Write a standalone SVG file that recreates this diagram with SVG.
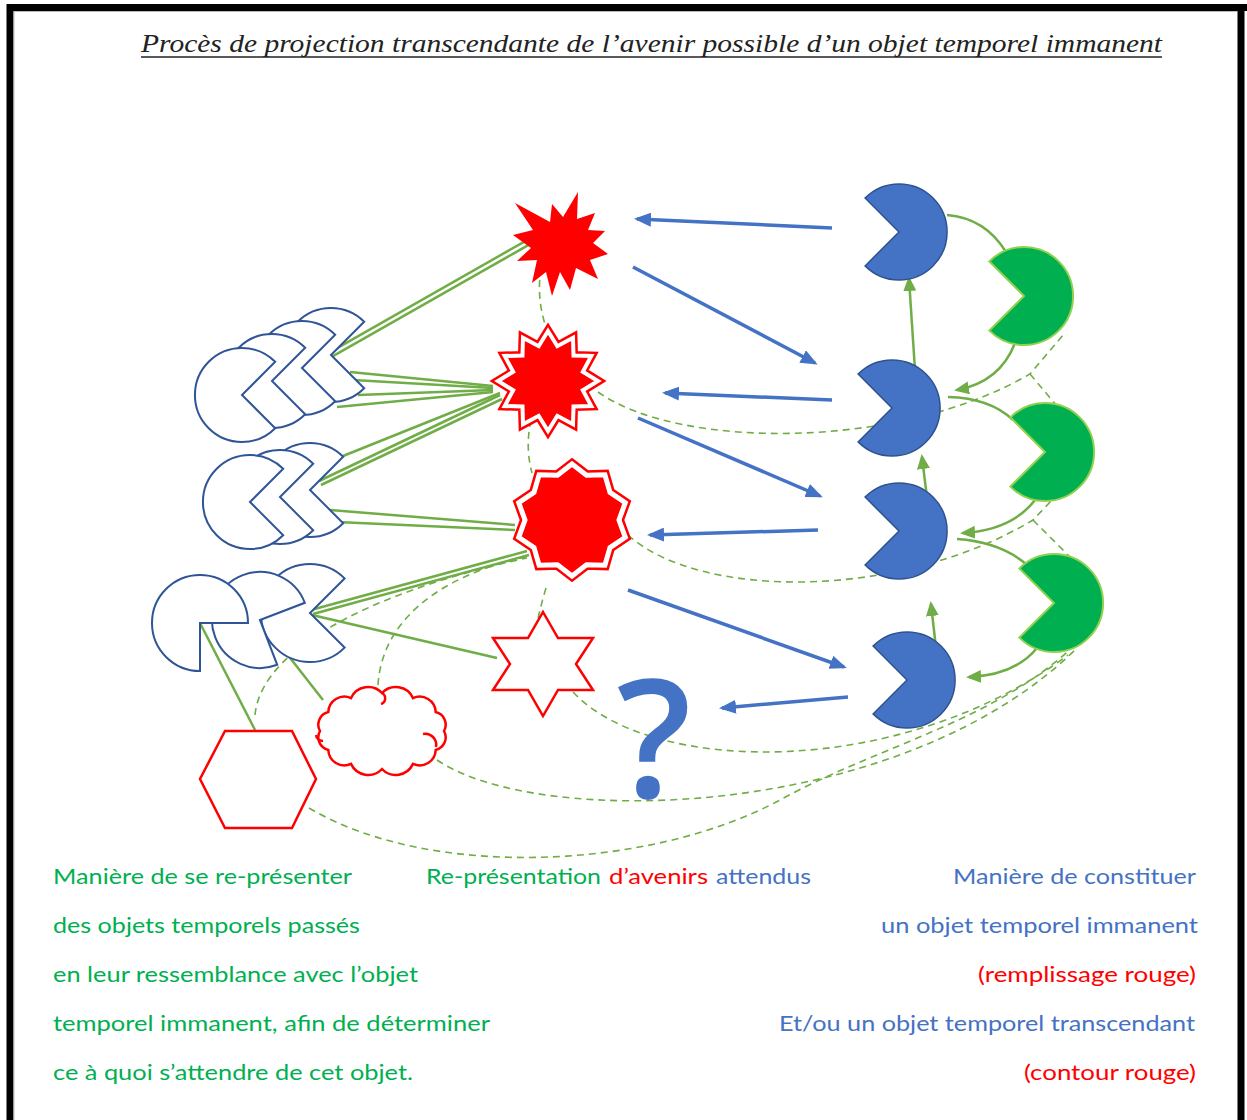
<svg xmlns="http://www.w3.org/2000/svg" width="1247" height="1120" viewBox="0 0 1247 1120">
<style>
.po{fill:#fff;stroke:#2F5597;stroke-width:2}
.pb{fill:#4472C4;stroke:#2F528F;stroke-width:1.5}
.pg{fill:#00B050;stroke:#92D050;stroke-width:2}
.gl{stroke:#70AD47;stroke-width:2.5;fill:none}
.gd{stroke:#70AD47;stroke-width:1.6;fill:none;stroke-dasharray:7 5}
.ba{stroke:#4472C4;stroke-width:3.5;fill:none;marker-end:url(#ab)}
.ga{stroke:#70AD47;stroke-width:2.5;fill:none}
.ro{fill:#fff;stroke:#FF0000;stroke-width:2.5}
.txt{font-family:Lato,"Liberation Sans",sans-serif;font-size:22px}
.g{fill:#00B050}.b{fill:#4472C4}.r{fill:#FF0000}
</style>
<defs>
<marker id="ab" markerUnits="userSpaceOnUse" markerWidth="17" markerHeight="14" viewBox="0 0 17 14" refX="14" refY="7" orient="auto"><path d="M0,0 L17,7 L0,14 Z" fill="#4472C4"/></marker>
<marker id="ag" markerUnits="userSpaceOnUse" markerWidth="15" markerHeight="13" viewBox="0 0 15 13" refX="12" refY="6.5" orient="auto"><path d="M0,0 L15,6.5 L0,13 Z" fill="#70AD47"/></marker>
<polygon id="s2" points="548,331 557.3,346.2 573,337.7 573.5,355.5 591.3,356 582.8,371.7 598,381 582.8,390.3 591.3,406 573.5,406.5 573,424.3 557.3,415.8 548,431 538.7,415.8 523,424.3 522.5,406.5 504.7,406 513.2,390.3 498,381 513.2,371.7 504.7,356 522.5,355.5 523,337.7 538.7,346.2"/>
<polygon id="s3" points="572,464 586.5,475.3 604.9,474.7 610,492.4 625.3,502.7 619,520 625.3,537.3 610,547.6 604.9,565.3 586.5,564.7 572,576 557.5,564.7 539.1,565.3 534,547.6 518.7,537.3 525,520 518.7,502.7 534,492.4 539.1,474.7 557.5,475.3"/>
</defs>
<rect width="1247" height="1120" fill="#fff"/>
<g id="frame">
<line x1="7" y1="7.5" x2="1247" y2="7.5" stroke="#000" stroke-width="7"/>
<line x1="10" y1="4" x2="10" y2="1120" stroke="#000" stroke-width="7"/>
<line x1="1241" y1="4" x2="1241" y2="1120" stroke="#000" stroke-width="7"/>
<line x1="14" y1="11.5" x2="1237" y2="11.5" stroke="#bbb" stroke-width="1"/>
<line x1="14" y1="11.5" x2="14" y2="1120" stroke="#bbb" stroke-width="1"/>
</g>
<g id="title">
<text x="141" y="52" font-family="'Liberation Serif',serif" font-style="italic" font-size="25" fill="#222" textLength="1021" lengthAdjust="spacingAndGlyphs">Procès de projection transcendante de l’avenir possible d’un objet temporel immanent</text>
<line x1="141" y1="57" x2="1162" y2="57" stroke="#222" stroke-width="1.5"/>
</g>
<g id="connectors">
<path class="gd" d="M541,268 Q536,300 547,330"/>
<path class="gd" d="M531,420 Q525,447 532,473"/>
<path class="gd" d="M546,588 Q540,608 536,628"/>
<path class="gd" d="M598,392 C680,450 900,450 1030,374 L1064,334"/>
<path class="gd" d="M1030,374 L1062,412"/>
<path class="gd" d="M628,535 C700,600 900,600 1033,520 L1052,500"/>
<path class="gd" d="M1033,520 L1078,565"/>
<path class="gd" d="M573,692 C650,775 900,780 1068,655"/>
<path class="gd" d="M437,760 C540,830 900,820 1075,650"/>
<path class="gd" d="M309,808 C430,880 650,870 780,800 C880,745 1000,720 1080,640"/>
<path class="gd" d="M255,715 C262,640 400,585 527,558"/>
<path class="gd" d="M378,685 C382,620 440,575 530,556"/>
<line class="gl" x1="328.8" y1="352.8" x2="525.8" y2="240.8"/>
<line class="gl" x1="331.2" y1="357.2" x2="528.2" y2="245.2"/>
<line class="gl" x1="350" y1="372" x2="493" y2="386"/>
<line class="gl" x1="353" y1="380" x2="493" y2="388"/>
<line class="gl" x1="358" y1="395" x2="493" y2="390"/>
<line class="gl" x1="337" y1="407" x2="493" y2="392"/>
<line class="gl" x1="343" y1="456" x2="500" y2="393"/>
<line class="gl" x1="319" y1="481" x2="500" y2="395"/>
<line class="gl" x1="321" y1="485" x2="502" y2="399"/>
<line class="gl" x1="330" y1="510" x2="515" y2="525"/>
<line class="gl" x1="337" y1="522" x2="515" y2="530"/>
<line class="gl" x1="311" y1="610" x2="527" y2="551"/>
<line class="gl" x1="313" y1="614" x2="529" y2="555"/>
<line class="gl" x1="312" y1="615" x2="497" y2="658"/>
<line class="gl" x1="200" y1="623" x2="255" y2="730"/>
<line class="gl" x1="262" y1="622" x2="323" y2="700"/>
<line class="ba" x1="832" y1="228" x2="637" y2="219"/>
<line class="ba" x1="633" y1="267" x2="815" y2="363"/>
<line class="ba" x1="832" y1="400" x2="665" y2="393"/>
<line class="ba" x1="638" y1="418" x2="820" y2="496"/>
<line class="ba" x1="818" y1="530" x2="650" y2="535"/>
<line class="ba" x1="628" y1="590" x2="844" y2="667"/>
<line class="ba" x1="848" y1="697" x2="722" y2="708"/>
<path class="ga" d="M947,215 Q985,218 1006,252"/>
<path class="ga" d="M1015,343 Q1000,382 957,390" marker-end="url(#ag)"/>
<path class="ga" d="M948,397 Q990,398 1013,420"/>
<path class="ga" d="M1035,500 Q1012,530 963,533" marker-end="url(#ag)"/>
<path class="ga" d="M957,539 Q1000,542 1026,564"/>
<path class="ga" d="M1037,648 Q1015,675 969,677" marker-end="url(#ag)"/>
<line class="ga" x1="915" y1="370" x2="909" y2="279" marker-end="url(#ag)"/>
<line class="ga" x1="927" y1="498" x2="922" y2="457" marker-end="url(#ag)"/>
<line class="ga" x1="936" y1="648" x2="931" y2="604" marker-end="url(#ag)"/>
</g>
<g id="stack1">
<path class="po" d="M331,355 L364.2,321.8 A47,47 0 1 0 364.2,388.2 Z"/>
<path class="po" d="M302,368 L335.2,334.8 A47,47 0 1 0 335.2,401.2 Z"/>
<path class="po" d="M272,381 L305.2,347.8 A47,47 0 1 0 305.2,414.2 Z"/>
<path class="po" d="M242,395 L275.2,361.8 A47,47 0 1 0 275.2,428.2 Z"/>
</g>
<g id="stack2">
<path class="po" d="M310,490 L343.2,456.8 A47,47 0 1 0 343.2,523.2 Z"/>
<path class="po" d="M280,497 L313.2,463.8 A47,47 0 1 0 313.2,530.2 Z"/>
<path class="po" d="M250,502 L283.2,468.8 A47,47 0 1 0 283.2,535.2 Z"/>
</g>
<g id="stack3">
<path class="po" d="M310,613 L344.6,578.4 A49,49 0 1 0 344.6,647.6 Z"/>
<path class="po" d="M260,620 L304.8,602.8 A48,48 0 1 0 277.2,664.8 Z"/>
<path class="po" d="M200,623 L248,623 A48,48 0 1 0 200,671 Z"/>
</g>
<g id="star1">
<polygon fill="#FF0000" points="515,203 550,222 552,204 563,217 578,192 577,219 595,213 588,230 605,231 593,243 608,254 590,260 598,279 576,268 570,290 560,272 552,296 546,272 532,283 537,260 517,261 531,248 513,235 533,230"/>
</g>
<g id="star2">
<use href="#s2" fill="#FF0000" stroke="#FF0000" stroke-width="9"/>
<use href="#s2" fill="#FF0000" stroke="#fff" stroke-width="4"/>
</g>
<g id="star3">
<use href="#s3" fill="#FF0000" stroke="#FF0000" stroke-width="10"/>
<use href="#s3" fill="#FF0000" stroke="#fff" stroke-width="5"/>
</g>
<g id="star4">
<polygon class="ro" points="543,612 558,638 593,638 576,664 593,690 558,690 543,716 528,690 493,690 510,664 493,638 528,638"/>
</g>
<g id="cloud">
<path class="ro" d="M382,693 A19,19 0 0 1 413,698.1 A16,16 0 0 1 435.7,712 A13,13 0 0 1 444,731 A13,13 0 0 1 435.7,750 A16,16 0 0 1 413,763.9 A19,19 0 0 1 382,769 A19,19 0 0 1 351,763.9 A16,16 0 0 1 328.3,750 A13,13 0 0 1 320,731 A13,13 0 0 1 328.3,712 A16,16 0 0 1 351,698.1 A19,19 0 0 1 382,693 Z"/>
<path d="M423,734 A11,11 0 0 1 436,747 M323,741 A7,7 0 0 1 316,735 M382,693 A6,6 0 0 1 381,704" fill="none" stroke="#FF0000" stroke-width="2.5"/>
</g>
<g id="hexagon">
<polygon class="ro" points="225,731 292,731 316,779 292,828 225,828 200,779"/>
</g>
<g id="question">
<text x="654" y="798" text-anchor="middle" font-family="'Open Sans',sans-serif" font-weight="600" font-size="165" fill="#4472C4">?</text>
</g>
<g id="blue1"><path class="pb" d="M899,232 L865.1,265.9 A48,48 0 1 0 865.1,198.1 Z"/></g>
<g id="blue2"><path class="pb" d="M892,408 L858.1,441.9 A48,48 0 1 0 858.1,374.1 Z"/></g>
<g id="blue3"><path class="pb" d="M899,531 L865.1,564.9 A48,48 0 1 0 865.1,497.1 Z"/></g>
<g id="blue4"><path class="pb" d="M907,680 L873.1,713.9 A48,48 0 1 0 873.1,646.1 Z"/></g>
<g id="green1"><path class="pg" d="M1024,296 L989.4,330.6 A49,49 0 1 0 989.4,261.4 Z"/></g>
<g id="green2"><path class="pg" d="M1045,452 L1010.4,486.6 A49,49 0 1 0 1010.4,417.4 Z"/></g>
<g id="green3"><path class="pg" d="M1054,603 L1019.4,637.6 A49,49 0 1 0 1019.4,568.4 Z"/></g>
<g id="text-left" class="txt g">
<text x="53" y="884" textLength="299" lengthAdjust="spacingAndGlyphs">Manière de se re-présenter</text>
<text x="53" y="933" textLength="307" lengthAdjust="spacingAndGlyphs">des objets temporels passés</text>
<text x="53" y="982" textLength="365" lengthAdjust="spacingAndGlyphs">en leur ressemblance avec l’objet</text>
<text x="53" y="1031" textLength="437" lengthAdjust="spacingAndGlyphs">temporel immanent, afin de déterminer</text>
<text x="53" y="1080" textLength="360" lengthAdjust="spacingAndGlyphs">ce à quoi s’attendre de cet objet.</text>
</g>
<g id="text-middle" class="txt">
<text class="g" x="426" y="884" textLength="175" lengthAdjust="spacingAndGlyphs">Re-présentation</text>
<text class="r" x="609" y="884" textLength="99" lengthAdjust="spacingAndGlyphs">d’avenirs</text>
<text class="b" x="716" y="884" textLength="95" lengthAdjust="spacingAndGlyphs">attendus</text>
</g>
<g id="text-right" class="txt" text-anchor="end">
<text class="b" x="1196" y="884" textLength="243" lengthAdjust="spacingAndGlyphs">Manière de constituer</text>
<text class="b" x="1198" y="933" textLength="317" lengthAdjust="spacingAndGlyphs">un objet temporel immanent</text>
<text class="r" x="1196" y="982" textLength="218" lengthAdjust="spacingAndGlyphs">(remplissage rouge)</text>
<text class="b" x="1195" y="1031" textLength="416" lengthAdjust="spacingAndGlyphs">Et/ou un objet temporel transcendant</text>
<text class="r" x="1196" y="1080" textLength="172" lengthAdjust="spacingAndGlyphs">(contour rouge)</text>
</g>
</svg>
